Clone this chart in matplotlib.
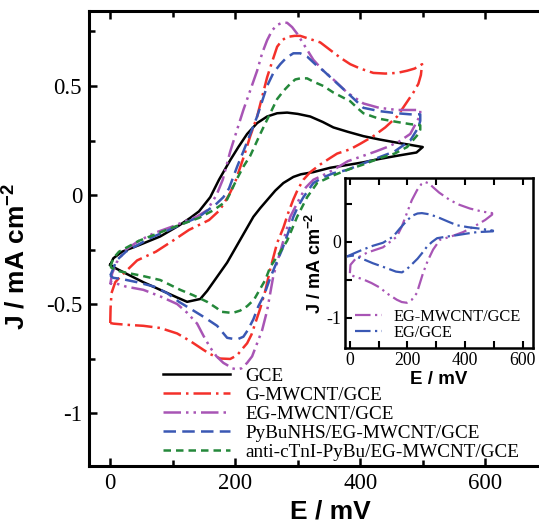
import matplotlib
matplotlib.use("Agg")
import matplotlib.pyplot as plt
from matplotlib.ticker import MultipleLocator

plt.rcParams['axes.unicode_minus'] = False
plt.rcParams['font.family'] = 'Liberation Serif'

# ---- main panel data (E in mV, J in mA cm^-2), forward scan then reverse ----
gce_E = [0, 5, 19, 46, 80, 110, 128, 142, 160, 174, 192, 205, 219, 235, 251, 267, 283, 300, 320, 340, 357,
         380, 405, 430, 459, 480, 500,
         490, 459, 430, 405, 380, 352, 325, 305, 293, 277, 264, 252, 240, 229, 217, 205, 196, 187, 171, 155,
         144, 123, 107, 80, 53, 25, 8, 0]
gce_J = [-0.32, -0.29, -0.26, -0.23, -0.19, -0.14, -0.105, -0.075, -0.01, 0.07, 0.16, 0.22, 0.28, 0.33, 0.36,
         0.375, 0.378, 0.372, 0.36, 0.335, 0.31, 0.29, 0.27, 0.255, 0.24, 0.23, 0.22,
         0.195, 0.18, 0.165, 0.15, 0.138, 0.125, 0.105, 0.095, 0.083, 0.055, 0.02, -0.02, -0.06, -0.10, -0.16,
         -0.22, -0.265, -0.31, -0.375, -0.44, -0.477, -0.49, -0.47, -0.435, -0.40, -0.36, -0.335, -0.32]

gmw_E = [0, 0.5, 2, 8, 16, 43, 73, 100, 126, 158, 175, 190, 200, 213, 224, 235, 243, 251, 260, 267, 275, 283,
         295, 304, 320, 336, 352, 368, 384, 400, 421, 440, 459, 475, 487, 499,
         497, 493, 485, 472, 459, 440, 421, 400, 384, 363, 352, 336, 320, 309, 300, 293, 285, 277, 267, 256,
         248, 240, 233, 226, 219, 213, 203, 192, 176, 160, 149, 128, 107, 80, 53, 25, 5, 0]
gmw_J = [-0.587, -0.52, -0.45, -0.40, -0.375, -0.30, -0.26, -0.21, -0.16, -0.115, -0.07, 0.0, 0.06, 0.17, 0.27,
         0.36, 0.45, 0.54, 0.62, 0.68, 0.71, 0.725, 0.73, 0.73, 0.715, 0.70, 0.665, 0.63, 0.60, 0.58, 0.56,
         0.557, 0.56, 0.57, 0.58, 0.60,
         0.55, 0.51, 0.47, 0.415, 0.36, 0.31, 0.27, 0.235, 0.21, 0.19, 0.17, 0.14, 0.105, 0.07, 0.025, -0.02,
         -0.08, -0.15, -0.22, -0.34, -0.44, -0.52, -0.58, -0.64, -0.68, -0.70, -0.735, -0.752, -0.75, -0.73,
         -0.71, -0.67, -0.635, -0.61, -0.60, -0.595, -0.59, -0.587]

egmw_E = [0, 3, 10, 25, 46, 70, 99, 120, 138, 155, 170, 180, 192, 203, 213, 224, 235, 243, 251, 259, 267, 275,
          283, 291, 299, 312, 325, 341, 357, 379, 405, 430, 459, 480, 496,
          496, 493, 480, 462, 443, 425, 405, 380, 357, 340, 325, 313, 304, 296, 288, 277, 268, 261, 251, 243,
          235, 227, 219, 210, 203, 195, 187, 181, 170, 160, 149, 139, 123, 107, 80, 53, 25, 3, 0]
egmw_J = [-0.41, -0.36, -0.31, -0.25, -0.21, -0.175, -0.145, -0.12, -0.10, -0.07, 0.0, 0.07, 0.20, 0.30, 0.39,
          0.48, 0.57, 0.65, 0.71, 0.755, 0.78, 0.79, 0.79, 0.77, 0.74, 0.68, 0.62, 0.57, 0.53, 0.47, 0.42,
          0.40, 0.39, 0.39, 0.39,
          0.37, 0.35, 0.28, 0.245, 0.22, 0.20, 0.18, 0.155, 0.115, 0.09, 0.07, 0.035, -0.01, -0.055, -0.10,
          -0.21, -0.30, -0.37, -0.53, -0.62, -0.68, -0.74, -0.77, -0.795, -0.80, -0.795, -0.78, -0.77, -0.74,
          -0.70, -0.645, -0.59, -0.54, -0.50, -0.465, -0.435, -0.42, -0.40, -0.41]

pybu_E = [0, 3, 10, 25, 62, 106, 142, 170, 181, 190, 203, 213, 224, 235, 243, 251, 261, 272, 282, 293, 304,
          315, 328, 341, 360, 379, 405, 430, 459, 480, 496,
          496, 493, 480, 455, 432, 405, 379, 357, 340, 325, 309, 300, 293, 285, 275, 266, 256, 246, 237, 229,
          220, 213, 205, 197, 187, 171, 150, 133, 110, 91, 70, 43, 18, 5, 0]
pybu_J = [-0.37, -0.35, -0.30, -0.26, -0.20, -0.145, -0.10, -0.04, -0.01, 0.03, 0.13, 0.20, 0.28, 0.36, 0.43,
          0.50, 0.56, 0.60, 0.63, 0.65, 0.65, 0.635, 0.60, 0.57, 0.52, 0.47, 0.40, 0.385, 0.375, 0.37, 0.37,
          0.34, 0.31, 0.25, 0.20, 0.175, 0.145, 0.115, 0.10, 0.08, 0.055, -0.01, -0.055, -0.10, -0.17, -0.25,
          -0.31, -0.38, -0.46, -0.51, -0.57, -0.62, -0.65, -0.66, -0.66, -0.655, -0.60, -0.56, -0.53, -0.49,
          -0.45, -0.42, -0.40, -0.385, -0.38, -0.37]

anti_E = [0, 5, 14, 46, 99, 142, 165, 180, 187, 202, 213, 224, 240, 245, 256, 267, 278, 288, 296, 304, 315,
          325, 341, 357, 384, 395, 405, 430, 459, 480, 496,
          496, 493, 475, 455, 432, 405, 379, 357, 331, 315, 299, 283, 270, 256, 248, 240, 230, 219, 208, 197,
          192, 176, 171, 155, 133, 112, 80, 50, 32, 15, 3, 0]
anti_J = [-0.33, -0.29, -0.26, -0.21, -0.15, -0.105, -0.07, -0.04, -0.02, 0.07, 0.13, 0.18, 0.28, 0.31, 0.375,
          0.44, 0.48, 0.51, 0.53, 0.535, 0.535, 0.52, 0.50, 0.47, 0.43, 0.40, 0.375, 0.35, 0.335, 0.325, 0.32,
          0.30, 0.28, 0.22, 0.19, 0.17, 0.14, 0.115, 0.09, 0.055, -0.01, -0.10, -0.21, -0.27, -0.33, -0.39,
          -0.43, -0.48, -0.51, -0.53, -0.54, -0.54, -0.535, -0.52, -0.49, -0.46, -0.435, -0.39, -0.37, -0.36,
          -0.35, -0.335, -0.33]

# ---- inset data ----
in_egmw_E = [0, 2, 20, 60, 115, 163, 180, 198, 215, 233, 248, 261, 275, 289, 310, 348, 380, 417, 460, 494,
             494, 470, 430, 393, 350, 313, 289, 270, 254, 240, 233, 215, 198, 180, 163, 130, 104, 75, 45, 20, 0]
in_egmw_J = [-0.41, -0.30, -0.22, -0.14, -0.07, 0.07, 0.20, 0.38, 0.55, 0.68, 0.76, 0.79, 0.77, 0.72, 0.65,
             0.55, 0.49, 0.44, 0.40, 0.38,
             0.36, 0.29, 0.20, 0.13, 0.07, 0.03, -0.10, -0.25, -0.41, -0.58, -0.67, -0.76, -0.80, -0.79, -0.76,
             -0.68, -0.60, -0.54, -0.49, -0.46, -0.43]

in_eg_E = [-10, 20, 45, 80, 115, 150, 174, 200, 219, 235, 250, 275, 303, 340, 372, 410, 442, 470, 497,
           497, 470, 442, 405, 372, 335, 303, 285, 268, 250, 235, 219, 200, 181, 160, 139, 110, 80, 55, 35, 10, -10]
in_eg_J = [-0.19, -0.14, -0.10, -0.05, -0.01, 0.07, 0.18, 0.29, 0.35, 0.375, 0.38, 0.365, 0.33, 0.27, 0.22,
           0.195, 0.18, 0.165, 0.15,
           0.14, 0.135, 0.13, 0.11, 0.09, 0.07, 0.05, 0.0, -0.06, -0.15, -0.22, -0.28, -0.35, -0.40, -0.39,
           -0.36, -0.32, -0.28, -0.24, -0.21, -0.18, -0.19]

labels = ["GCE", "G-MWCNT/GCE", "EG-MWCNT/GCE", "PyBuNHS/EG-MWCNT/GCE", "anti-cTnI-PyBu/EG-MWCNT/GCE"]
inset_labels = ["EG-MWCNT/GCE", "EG/GCE"]

colors = {
    "black": "#000000",
    "red": "#f4302a",
    "purple": "#a855b5",
    "blue": "#3a58b4",
    "green": "#24883a",
}
styles = {
    "solid": "-",
    "dashdot": (0, (7, 2, 1, 2)),
    "dashdotdot": (0, (7, 2, 1, 2, 1, 2)),
    "dash": (0, (5, 2.5)),
    "shortdash": (0, (3, 2)),
}

fig = plt.figure(figsize=(5.39, 5.25), dpi=100)
ax = fig.add_axes([89 / 539, 59 / 525, 458.75 / 539, 455 / 525])

lw = 1.8
ax.plot(gce_E, gce_J, color=colors["black"], ls=styles["solid"], lw=lw, label=labels[0])
ax.plot(gmw_E, gmw_J, color=colors["red"], ls=styles["dashdot"], lw=lw, label=labels[1])
ax.plot(egmw_E, egmw_J, color=colors["purple"], ls=styles["dashdotdot"], lw=lw, label=labels[2])
ax.plot(pybu_E, pybu_J, color=colors["blue"], ls=styles["dash"], lw=lw, label=labels[3])
ax.plot(anti_E, anti_J, color=colors["green"], ls=styles["shortdash"], lw=lw, label=labels[4])

ax.set_xlim(-34, 700)
ax.set_ylim(-1.243, 0.844)
ax.xaxis.set_major_locator(MultipleLocator(200))
ax.xaxis.set_minor_locator(MultipleLocator(100))
ax.yaxis.set_major_locator(MultipleLocator(0.5))
ax.yaxis.set_minor_locator(MultipleLocator(0.25))
ax.set_yticks([-1, -0.5, 0, 0.5])
ax.set_yticklabels(["-1", "-0.5", "0", "0.5"])
ax.tick_params(which="both", direction="in", top=True, right=False, width=1.8, labelsize=16.5, pad=5)
ax.tick_params(which="major", length=6)
ax.tick_params(which="minor", length=4)
for s in ax.spines.values():
    s.set_linewidth(2.2)
ax.spines["right"].set_visible(False)

ax.set_xlabel("E / mV", fontsize=19, fontweight="bold", family="Liberation Sans")
ax.set_ylabel("J / mA cm$^{\\mathregular{-2}}$", fontsize=19, fontweight="bold", family="Liberation Sans")
ax.xaxis.set_label_coords(0.527, -0.074)
ax.yaxis.set_label_coords(-0.13, 0.46)

ax.legend(loc="upper left", bbox_to_anchor=(163 / 539, 0.300), bbox_transform=fig.transFigure,
          frameon=False, borderpad=0, borderaxespad=0, fontsize=13.8, handlelength=3.5,
          handletextpad=0.8, labelspacing=0.08)

# ---- inset ----
ins = fig.add_axes([345 / 539, 177 / 525, 188 / 539, 170 / 525])
ilw = 1.6
ins.plot(in_egmw_E, in_egmw_J, color=colors["purple"], ls=styles["dashdotdot"], lw=ilw, label=inset_labels[0])
ins.plot(in_eg_E, in_eg_J, color=colors["blue"], ls=styles["dashdot"], lw=ilw, label=inset_labels[1])
ins.set_xlim(-17, 636)
ins.set_ylim(-1.395, 0.842)
ins.xaxis.set_major_locator(MultipleLocator(200))
ins.xaxis.set_minor_locator(MultipleLocator(100))
ins.set_yticks([-1, 0])
ins.set_yticklabels(["-1", "0"])
ins.yaxis.set_minor_locator(MultipleLocator(0.5))
ins.tick_params(which="both", direction="in", top=True, right=False, width=1.5, labelsize=12.8, pad=3)
ins.tick_params(which="major", length=5)
ins.tick_params(which="minor", length=5)
for s in ins.spines.values():
    s.set_linewidth(1.8)
ins.set_xlabel("E / mV", fontsize=13.5, fontweight="bold", family="Liberation Sans", labelpad=1)
ins.set_ylabel("J / mA cm$^{\\mathregular{-2}}$", fontsize=13, fontweight="bold", family="Liberation Sans",
               labelpad=1)
ins.legend(loc="upper left", bbox_to_anchor=(355 / 539, 0.411), bbox_transform=fig.transFigure,
           frameon=False, borderpad=0, borderaxespad=0, fontsize=11.8, handlelength=1.65,
           handletextpad=0.67, labelspacing=0.0)

fig.savefig("out.png", dpi=100)
